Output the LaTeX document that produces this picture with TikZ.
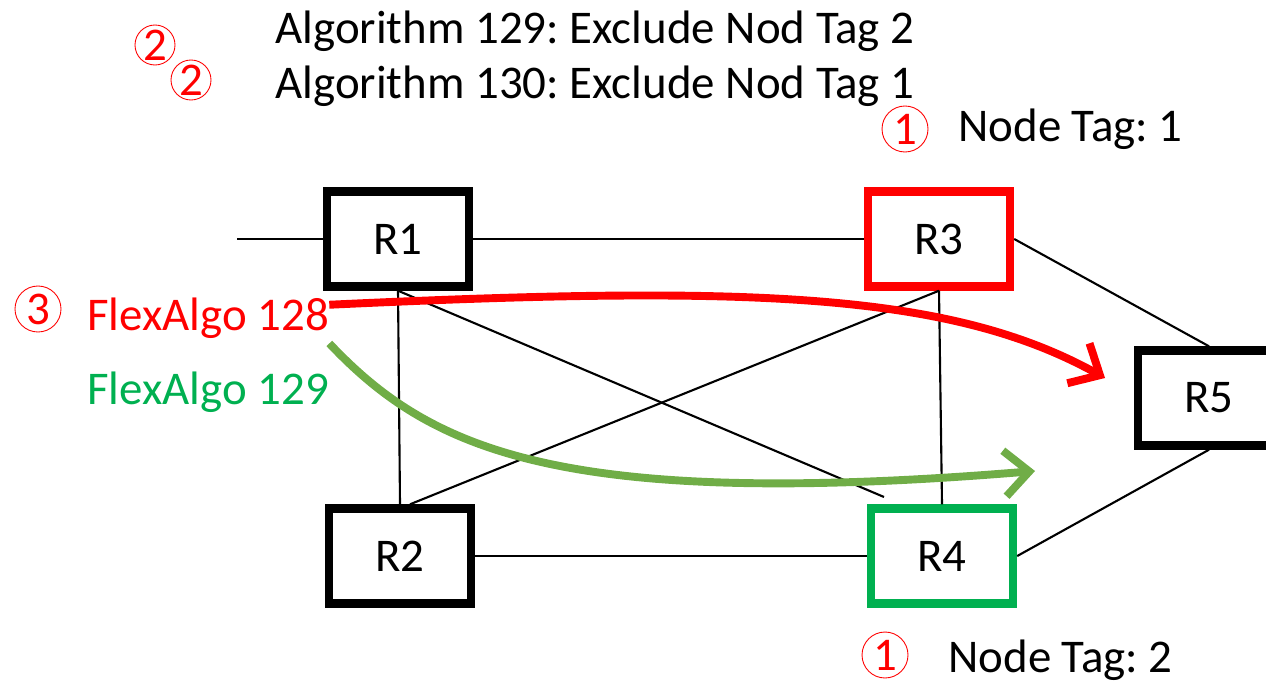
\documentclass[tikz,border=0pt]{standalone}
\usepackage{fontspec}
\setmainfont{Carlito}
\usepackage{xcolor}
\usepackage{tikz}
\usetikzlibrary{arrows.meta}
\definecolor{tagred}{RGB}{255,0,0}
\definecolor{taggreen}{RGB}{0,176,80}
\definecolor{pathgreen}{RGB}{112,173,71}
\frenchspacing

\begin{document}
\begin{tikzpicture}[x=0.02cm, y=-0.02cm,
        font=\fontsize{26.7}{32}\selectfont,
        router/.style={draw, line width=4.8pt, minimum width=2.84cm, minimum height=1.9cm, inner sep=0pt},
        link/.style={line width=1.2pt},
        label/.style={anchor=base west, inner sep=0pt},
        flow/.style={line width=4.5pt, -{Straight Barb[length=14pt, width=26pt]}},
        tagnum/.style={circle, draw=tagred, text=tagred, line width=0.5pt, minimum size=0.92cm, inner sep=0pt}]
        \useasboundingbox (0,0) rectangle (1266,682);
        \foreach \i/\x/\y/\c in {1/398/239/black, 2/400/556/black, 3/939/239/tagred, 4/942/556/taggreen, 5/1209/398/black}{
            \node[router, draw=\c] (r\i) at(\x,\y) {R\i};
        }
        \coordinate (in) at(237,239);
        \coordinate (cut) at(884,497);
        \path[draw, link] (in) -- (r1.west);
        \path[draw, link] (r1.east) -- (r3.west);
        \path[draw, link] (r1.south) -- (r2.north);
        \path[draw, link] (r1.south) -- (cut);
        \path[draw, link] ([xshift=0.2cm]r2.north) -- (r3.south);
        \path[draw, link] (r3.south) -- (r4.north);
        \path[draw, link] (r2.east) -- (r4.west);
        \path[draw, link] (r3.east) -- (r5.north);
        \path[draw, link] (r4.east) -- (r5.south);
        % labels
        \node[label] (alg1) at(275,44) {Algorithm 129: Exclude Nod Tag 2};
        \node[label] (alg2) at(275,99) {Algorithm 130: Exclude Nod Tag 1};
        \node[tagnum, minimum size=0.8cm] (n2a) at(155,45) {2};
        \node[tagnum, minimum size=0.8cm] (n2b) at(191,80) {2};
        \node[tagnum] (n1a) at(905,129) {1};
        \node[label] (tag1) at(958,142) {Node Tag: 1};
        \node[tagnum] (n1b) at(885,655) {1};
        \node[label] (tag2) at(948,672) {Node Tag: 2};
        \node[tagnum] (n3) at(38,309) {3};
        \node[label, text=tagred] (fa128) at(87,330) {FlexAlgo 128};
        \node[label, text=taggreen] (fa129) at(87,404) {FlexAlgo 129};
        \coordinate (red end) at(1105,378);
        \coordinate (green end) at(1035,471);
        \path[draw, flow, tagred] ([yshift=0.26cm]fa128.east) .. controls (750,285) and (950,292) .. (red end);
        \path[draw, flow, pathgreen] ([yshift=-0.1cm]fa128.south east) .. controls (430,450) and (560,510) .. (green end);
    \end{tikzpicture}
\end{document}
